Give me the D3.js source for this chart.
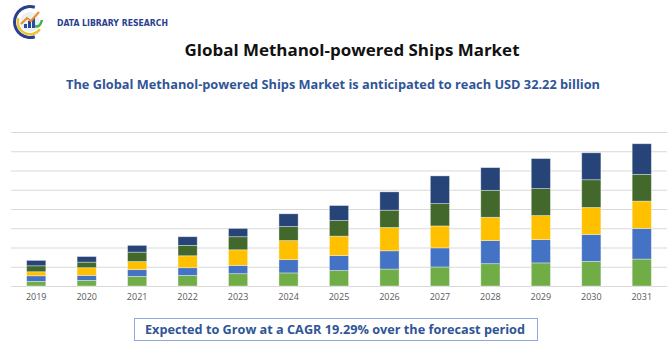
<!DOCTYPE html>
<html>
<head>
<meta charset="utf-8">
<script src="https://cdn.jsdelivr.net/npm/d3@7"></script>
<style>
  body { margin: 0; background: #fff; }
  svg { font-family: "Open Sans", "Noto Sans", sans-serif; }
</style>
</head>
<body>
<div id="chart-area"></div>
<script>
// data (in gridline units)
const years = ["2019","2020","2021","2022","2023","2024","2025","2026","2027","2028","2029","2030","2031"]
const seg1 = [0.24, 0.29, 0.50, 0.55, 0.64, 0.68, 0.80, 0.88, 0.99, 1.16, 1.20, 1.28, 1.40]
const seg2 = [0.29, 0.26, 0.35, 0.40, 0.43, 0.69, 0.78, 0.95, 0.99, 1.20, 1.21, 1.40, 1.59]
const seg3 = [0.21, 0.40, 0.42, 0.62, 0.81, 0.99, 1.01, 1.21, 1.14, 1.21, 1.25, 1.40, 1.42]
const seg4 = [0.31, 0.29, 0.49, 0.54, 0.68, 0.73, 0.81, 0.90, 1.16, 1.40, 1.40, 1.44, 1.39]
const seg5 = [0.28, 0.29, 0.35, 0.45, 0.43, 0.66, 0.78, 0.95, 1.44, 1.18, 1.56, 1.40, 1.59]
const yTicks = [0, 1, 2, 3, 4, 5, 6, 7, 8]

const segKeys = ["s1","s2","s3","s4","s5"]
const colors = ["#70AD47", "#4472C4", "#FFC000", "#43682B", "#264478"]

const table = years.map((y, i) => ({
  year: y, s1: seg1[i], s2: seg2[i], s3: seg3[i], s4: seg4[i], s5: seg5[i]
}))

const width = 670
const height = 350
const margin = { top: 132, right: 3, bottom: 64, left: 11 }

const svg = d3.select("#chart-area").append("svg")
  .attr("width", width)
  .attr("height", height)

// squeeze/stretch a text to the width it has in the picture
const fitWidth = (sel, w) => {
  const len = sel.node().getComputedTextLength()
  if (Math.abs(len - w) > 2) sel.attr("textLength", w).attr("lengthAdjust", "spacingAndGlyphs")
}

// logo
const logo = svg.append("g").attr("transform", "translate(30,22)")
logo.append("path")
  .attr("d", d3.arc()({ innerRadius: 14, outerRadius: 17, startAngle: Math.PI * 0.9, endAngle: Math.PI * 2.1 }))
  .attr("fill", "#2b3f8f")
logo.append("path")
  .attr("d", d3.arc()({ innerRadius: 11, outerRadius: 13.5, startAngle: Math.PI * 0.7, endAngle: Math.PI * 1.6 }))
  .attr("fill", "#f2c12e")
logo.append("circle").attr("r", 10).attr("fill", "#e8f2f6")
;[[-6, 4], [-2, 7], [2, 10]].forEach(([x, h]) => {
  logo.append("rect").attr("x", x).attr("y", 6 - h).attr("width", 3).attr("height", h).attr("fill", "#2b4a9a")
})
logo.append("path")
  .attr("d", "M-9,2 L-3,-4 L1,-1 L9,-10")
  .attr("fill", "none").attr("stroke", "#f08a24").attr("stroke-width", 2)
logo.append("path")
  .attr("d", "M5,4 Q10,6 12,-2")
  .attr("fill", "none").attr("stroke", "#4cae4c").attr("stroke-width", 2.5)
const logoText = svg.append("text")
  .attr("x", 57).attr("y", 26)
  .attr("font-size", 9.5).attr("font-weight", "bold")
  .attr("fill", "#2b3f8f")
  .attr("font-family", "'DejaVu Sans Condensed', 'Liberation Sans Narrow', sans-serif")
  .text("DATA LIBRARY RESEARCH")
fitWidth(logoText, 111)

// titles
const title = svg.append("text")
  .attr("x", 352).attr("y", 56)
  .attr("text-anchor", "middle")
  .attr("font-size", 16.5).attr("font-weight", "bold")
  .attr("fill", "#111")
  .text("Global Methanol-powered Ships Market")
fitWidth(title, 335)

const subtitle = svg.append("text")
  .attr("x", 333).attr("y", 89)
  .attr("text-anchor", "middle")
  .attr("font-size", 12.5).attr("font-weight", "bold")
  .attr("fill", "#2F5597")
  .text("The Global Methanol-powered Ships Market is anticipated to reach USD 32.22 billion")
fitWidth(subtitle, 534)

// scales
const x = d3.scaleBand()
  .domain(years)
  .range([margin.left, width - margin.right])
  .paddingInner(0.62)
  .paddingOuter(0.31)

const y = d3.scaleLinear()
  .domain([0, 8])
  .range([height - margin.bottom, margin.top])

// grid
svg.append("g")
  .selectAll("line")
  .data(yTicks)
  .join("line")
    .attr("x1", margin.left)
    .attr("x2", width - margin.right)
    .attr("y1", d => y(d) + 0.5)
    .attr("y2", d => y(d) + 0.5)
    .attr("stroke", "#D9D9D9")
    .attr("stroke-width", 1)

// bars
const stacked = d3.stack().keys(segKeys)(table)

svg.append("g")
  .selectAll("g")
  .data(stacked)
  .join("g")
    .attr("fill", (d, i) => colors[i])
  .selectAll("rect")
  .data(d => d)
  .join("rect")
    .attr("x", d => x(d.data.year))
    .attr("width", x.bandwidth())
    .attr("y", d => y(d[1]))
    .attr("height", d => y(d[0]) - y(d[1]))
    .attr("stroke", "rgba(255,255,255,0.45)")
    .attr("stroke-width", 0.8)

// x axis
const xAxis = svg.append("g")
  .attr("transform", `translate(0, ${height - margin.bottom})`)
  .call(d3.axisBottom(x).tickSize(0).tickPadding(8))
xAxis.select(".domain").remove()
xAxis.selectAll("text")
  .attr("font-size", 9)
  .attr("fill", "#595959")
  .attr("font-family", "'Open Sans', sans-serif")

// bottom box
svg.append("rect")
  .attr("x", 134.5).attr("y", 318.5)
  .attr("width", 403).attr("height", 22)
  .attr("fill", "#fff")
  .attr("stroke", "#8EA9DB")
  .attr("stroke-width", 1)

const foot = svg.append("text")
  .attr("x", 335).attr("y", 334)
  .attr("text-anchor", "middle")
  .attr("font-size", 12.5).attr("font-weight", "bold")
  .attr("fill", "#2F5597")
  .text("Expected to Grow at a CAGR 19.29% over the forecast period")
fitWidth(foot, 380)
</script>
</body>
</html>
